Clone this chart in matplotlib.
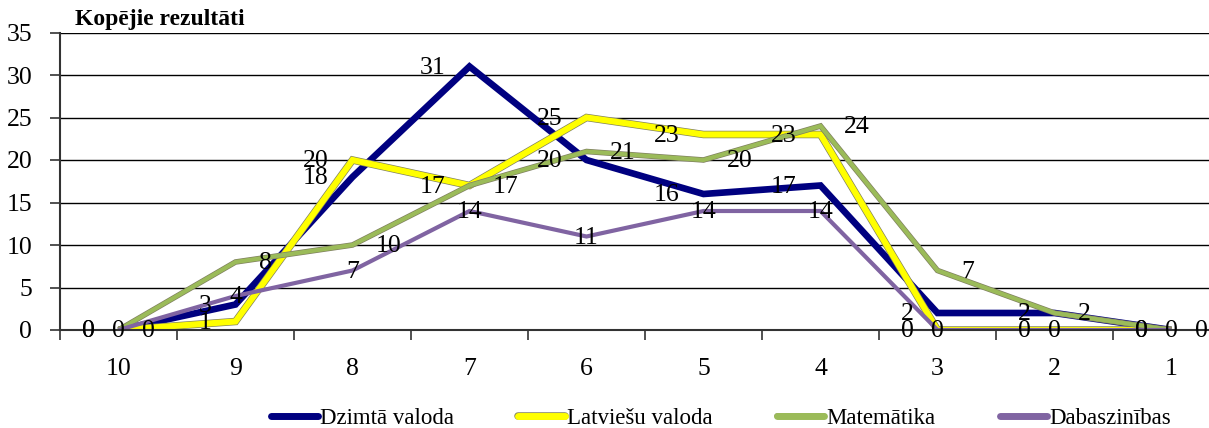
import numpy as np
import matplotlib.pyplot as plt
import matplotlib.patheffects as pe

plt.rcParams['font.family'] = ['Liberation Serif', 'DejaVu Serif']

categories = ['10', '9', '8', '7', '6', '5', '4', '3', '2', '1']
dzimta = [0, 3, 18, 31, 20, 16, 17, 2, 2, 0]
latviesu = [0, 1, 20, 17, 25, 23, 23, 0, 0, 0]
matematika = [0, 8, 10, 17, 21, 20, 24, 7, 2, 0]
dabaszinibas = [0, 4, 7, 14, 11, 14, 14, 0, 0, 0]

names = ['Dzimtā valoda', 'Latviešu valoda', 'Matemātika', 'Dabaszinības']
colors = ['#000080', '#FFFF00', '#9BBB59', '#8064A2']
widths = [4.8, 4.4, 3.0, 3.0]
# where the data labels sit: left of point, centred, right of point
label_side = ['left', 'left', 'right', 'center']

fig = plt.figure(figsize=(12.09, 4.28), dpi=100)
ax = fig.add_axes([60/1209, 98/428, 1170/1209, 297.5/428])

x = np.arange(len(categories))
series = [dzimta, latviesu, matematika, dabaszinibas]
for vals, name, c, lw, side in zip(series, names, colors, widths, label_side):
    if name in ('Latviešu valoda', 'Matemātika'):
        effects = [pe.Stroke(linewidth=lw + 1.0, foreground='#808060'), pe.Normal()]
    else:
        effects = None
    ax.plot(x, vals, color=c, lw=lw, label=name, path_effects=effects,
            solid_joinstyle='miter', solid_capstyle='butt')
    for xi, v in zip(x, vals):
        if side == 'left':
            off, ha = -17, 'right'
        elif side == 'right':
            off, ha = 17, 'left'
        else:
            off, ha = 0, 'center'
        ax.annotate(str(v), (xi, v), xytext=(off, -1), textcoords='offset points',
                    ha=ha, va='center', fontsize=18.5, color='black', zorder=5)

ax.set_xlim(-0.5, len(categories) - 0.5)
ax.set_ylim(0, 35)
ax.set_yticks(np.arange(0, 36, 5))
ax.set_xticks(x)
ax.set_xticklabels(categories)
ax.set_xticks(np.arange(-0.5, len(categories), 1), minor=True)
ax.tick_params(axis='x', which='major', length=0, pad=20, labelsize=18.5)
ax.tick_params(axis='x', which='minor', length=7, width=1.2, direction='out', color='#333333')
ax.tick_params(axis='y', length=7, width=1.2, pad=13, labelsize=18.5, color='#333333')
ax.grid(axis='y', color='black', lw=1.0)
ax.set_axisbelow(True)
for s in ['top', 'right']:
    ax.spines[s].set_visible(False)
ax.spines['left'].set_linewidth(1.5)
ax.spines['left'].set_color('#333333')
ax.spines['bottom'].set_linewidth(1.5)
ax.spines['bottom'].set_color('#333333')

fig.text(75/1209, 1 - 9/428, 'Kopējie rezultāti', fontsize=17, fontweight='bold',
         ha='left', va='top')

leg = fig.legend(loc='center', bbox_to_anchor=(0.596, 0.022), ncol=4, frameon=False,
                 fontsize=16.5, handlelength=2.05, handletextpad=0.1, columnspacing=2.8)
for line in leg.get_lines():
    line.set_linewidth(5)
    line.set_solid_capstyle('round')

fig.savefig('out.png', dpi=100)
